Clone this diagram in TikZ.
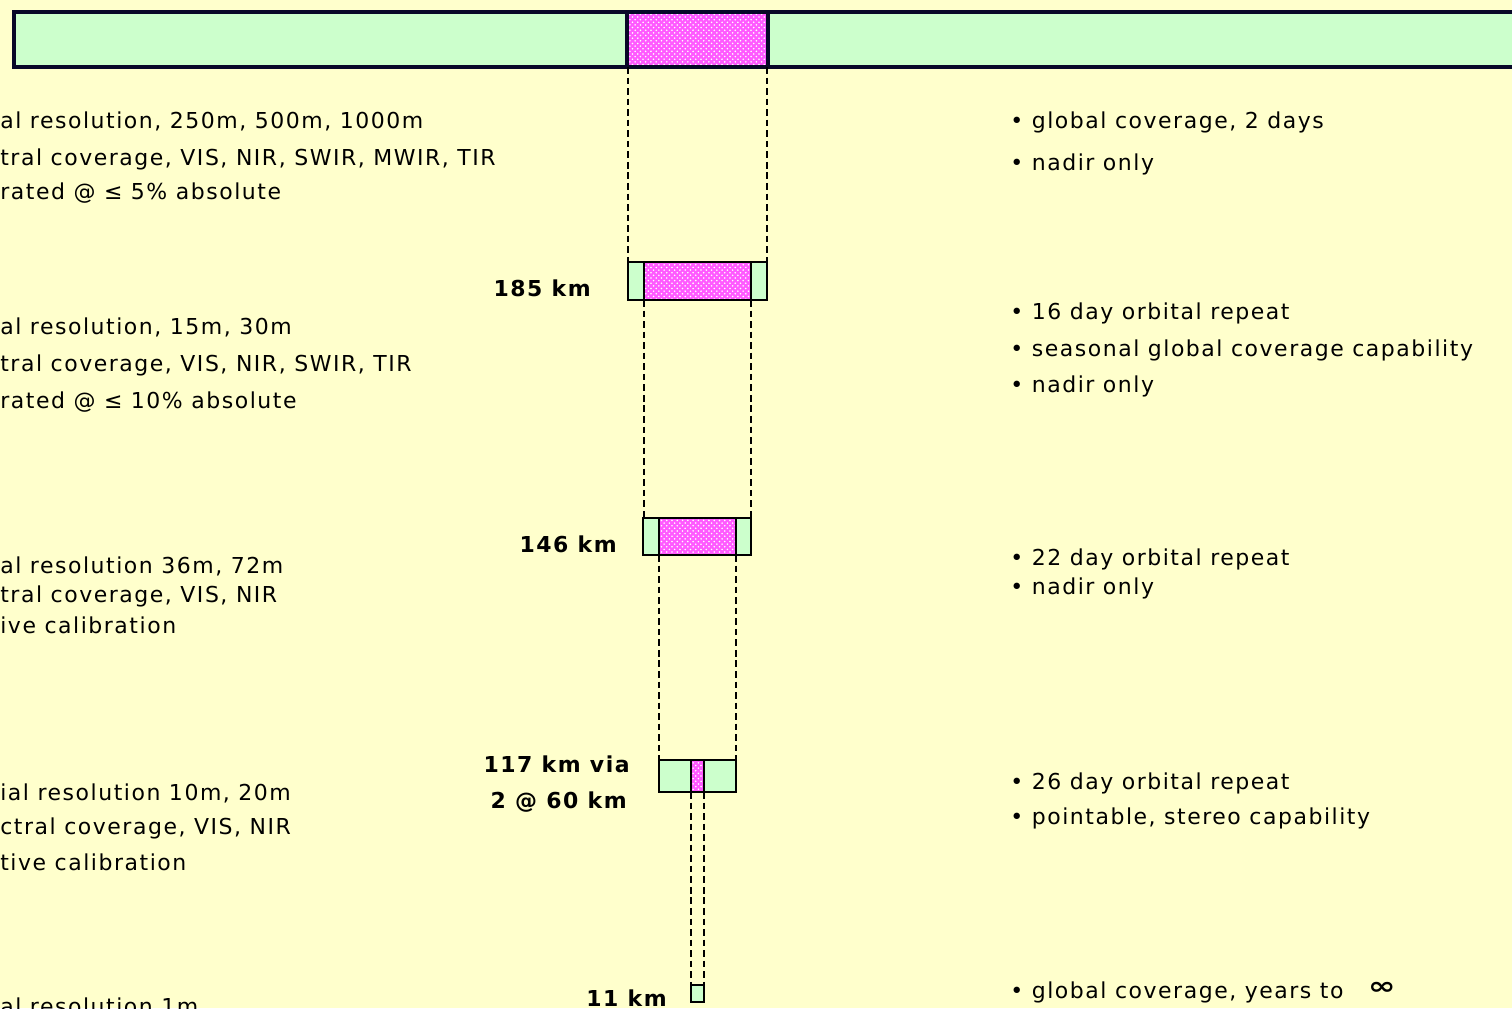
\documentclass[tikz,border=0pt]{standalone}
\usepackage{fontspec}
\usepackage{graphicx}
\setmainfont{DejaVu Sans}
\newfontfamily\swathfont[LetterSpace=7]{DejaVu Sans}
\usetikzlibrary{patterns}
\definecolor{mycream}{RGB}{255,255,204}
\definecolor{mygreen}{RGB}{204,255,204}
\definecolor{mypink}{RGB}{255,90,255}
\definecolor{myline}{RGB}{8,8,40}

\begin{document}
\begin{tikzpicture}[x=0.02cm, y=-0.02cm,
    lefttxt/.style={anchor=base west, inner sep=0pt, font=\swathfont\fontsize{12.5}{15}\selectfont},
    righttxt/.style={anchor=base west, inner sep=0pt, font=\swathfont\fontsize{12.5}{15}\selectfont},
    kmtxt/.style={anchor=base east, inner sep=0pt, font=\swathfont\bfseries\fontsize{12.5}{15}\selectfont},
    track/.style={line width=0.8pt, dash pattern=on 3.8pt off 2.2pt},
    swath/.style={draw=black, line width=1.1pt},
    greenpart/.style={fill=mygreen},
    pinkpart/.style={fill=mypink, postaction={pattern=crosshatch dots, pattern color=white}}]
    \useasboundingbox (0,0) rectangle (1512,1008);
    \clip (0,0) rectangle (1512,1008);
    \fill[mycream] (0,0) rectangle (1512,1008);

    % Widest swath (top bar)
    \fill[greenpart] (14,12) rectangle (1530,67);
    \fill[pinkpart] (627,12) rectangle (768,67);
    \draw[line width=2.2pt, myline] (14,12) rectangle (1530,67);
    \draw[line width=2.2pt, myline] (627,12) -- (627,67) (768,12) -- (768,67);
    \draw[track] (628,67) -- (628,262);
    \draw[track] (767,67) -- (767,262);

    % 185 km swath
    \fill[greenpart] (628,262) rectangle (767,300);
    \fill[pinkpart] (644,262) rectangle (751,300);
    \draw[swath] (628,262) rectangle (767,300);
    \draw[swath] (644,262) -- (644,300) (751,262) -- (751,300);
    \node[kmtxt] (km185) at (591,296) {185 km};
    \draw[track] (644,300) -- (644,518);
    \draw[track] (751,300) -- (751,518);

    % 146 km swath
    \fill[greenpart] (643,518) rectangle (751,555);
    \fill[pinkpart] (659,518) rectangle (736,555);
    \draw[swath] (643,518) rectangle (751,555);
    \draw[swath] (659,518) -- (659,555) (736,518) -- (736,555);
    \node[kmtxt] (km146) at (617,552) {146 km};
    \draw[track] (659,555) -- (659,760);
    \draw[track] (736,555) -- (736,760);

    % 117 km swath
    \fill[greenpart] (659,760) rectangle (736,792);
    \fill[pinkpart] (691,760) rectangle (704,792);
    \draw[swath] (659,760) rectangle (736,792);
    \draw[swath] (691,760) -- (691,792) (704,760) -- (704,792);
    \node[kmtxt] (km117) at (630,772) {117 km via};
    \node[kmtxt] (km60) at (627,808) {2 @ 60 km};
    \draw[track] (691,792) -- (691,985);
    \draw[track] (704,792) -- (704,985);

    % 11 km swath
    \fill[greenpart] (691,985) rectangle (704,1002);
    \draw[swath] (691,985) rectangle (704,1002);
    \node[kmtxt] (km11) at (667,1006) {11 km};

    % Left column
    \node[lefttxt] (la1) at (0,128) {al resolution, 250m, 500m, 1000m};
    \node[lefttxt] (la2) at (0,165) {tral coverage, VIS, NIR, SWIR, MWIR, TIR};
    \node[lefttxt] (la3) at (0,199) {rated @ ≤ 5\% absolute};
    \node[lefttxt] (lb1) at (0,334) {al resolution, 15m, 30m};
    \node[lefttxt] (lb2) at (0,371) {tral coverage, VIS, NIR, SWIR, TIR};
    \node[lefttxt] (lb3) at (0,408) {rated @ ≤ 10\% absolute};
    \node[lefttxt] (lc1) at (0,573) {al resolution 36m, 72m};
    \node[lefttxt] (lc2) at (0,602) {tral coverage, VIS, NIR};
    \node[lefttxt] (lc3) at (0,633) {ive calibration};
    \node[lefttxt] (ld1) at (0,800) {ial resolution 10m, 20m};
    \node[lefttxt] (ld2) at (0,834) {ctral coverage, VIS, NIR};
    \node[lefttxt] (ld3) at (0,870) {tive calibration};
    \node[lefttxt] (le1) at (0,1014) {al resolution 1m};

    % Right column
    \node[righttxt] (ra1) at (1010,128) {• global coverage, 2 days};
    \node[righttxt] (ra2) at (1010,170) {• nadir only};
    \node[righttxt] (rb1) at (1010,319) {• 16 day orbital repeat};
    \node[righttxt] (rb2) at (1010,356) {• seasonal global coverage capability};
    \node[righttxt] (rb3) at (1010,392) {• nadir only};
    \node[righttxt] (rc1) at (1010,565) {• 22 day orbital repeat};
    \node[righttxt] (rc2) at (1010,594) {• nadir only};
    \node[righttxt] (rd1) at (1010,789) {• 26 day orbital repeat};
    \node[righttxt] (rd2) at (1010,824) {• pointable, stereo capability};
    \node[righttxt] (re1) at (1010,998) {• global coverage, years to\hspace{14pt}\raisebox{2pt}{\bfseries\scalebox{1.5}[1.1]{∞}}};
\end{tikzpicture}
\end{document}
